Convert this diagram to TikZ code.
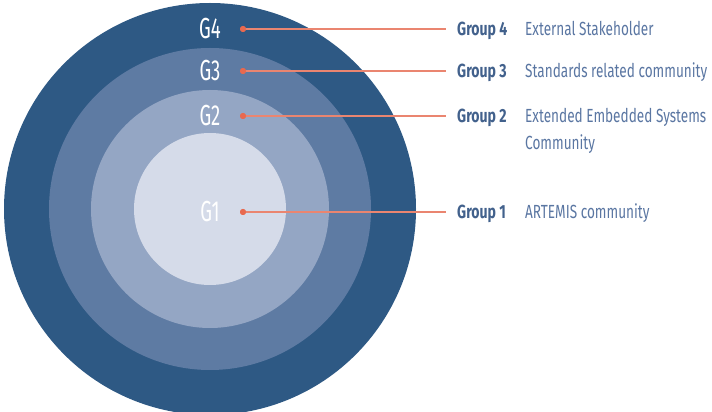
\documentclass[tikz,border=0pt]{standalone}
\usepackage{fontspec}
\setmainfont{Fira Sans}
\newfontfamily\narrowfont[FakeStretch=0.74]{Fira Sans}
\newfontfamily\descfont[FakeStretch=0.715]{Fira Sans}
\newfontfamily\ringfont[FakeStretch=0.64]{Fira Sans}
\usetikzlibrary{positioning}
\definecolor{ringfour}{HTML}{2E5984}
\definecolor{ringthree}{HTML}{5E7BA3}
\definecolor{ringtwo}{HTML}{94A6C4}
\definecolor{ringone}{HTML}{D5DBE9}
\definecolor{coral}{HTML}{E8694F}
\definecolor{leadcol}{HTML}{EA8570}
\definecolor{groupcol}{HTML}{42618C}
\definecolor{desccol}{HTML}{5A76A2}
\tikzset{ring/.style={circle,inner sep=0pt,draw=none}}
\tikzset{ringlabel/.style={text=white,font=\ringfont\fontsize{29}{32}\selectfont,inner sep=0pt}}
\tikzset{dot/.style={circle,fill=coral,inner sep=0pt,minimum size=6pt}}
\tikzset{grouplabel/.style={anchor=west,inner sep=0pt,text height=13pt,text depth=0pt,text=groupcol,font=\narrowfont\bfseries\fontsize{19}{26}\selectfont}}
\tikzset{desclabel/.style={anchor=west,inner sep=0pt,text height=13pt,text depth=0pt,text=desccol,font=\descfont\fontsize{19}{26}\selectfont}}
\tikzset{leader/.style={draw=leadcol,line width=1.2pt,shorten >=11pt}}

\begin{document}
\begin{tikzpicture}[x=1pt,y=1pt]
    \useasboundingbox (0,0) rectangle (712,412);
    % rings
    \node[ring,fill=ringfour,minimum size=412pt] (c4) at (210,203) {};
    \node[ring,fill=ringthree,minimum size=322pt] (c3) at (210,203) {};
    \node[ring,fill=ringtwo,minimum size=238pt] (c2) at (210,203) {};
    \node[ring,fill=ringone,minimum size=152pt] (c1) at (210,203) {};
    % ring names
    \node[ringlabel] (n4) at (210,383) {G4};
    \node[ringlabel] (n3) at (210,341) {G3};
    \node[ringlabel] (n2) at (210,296) {G2};
    \node[ringlabel] (n1) at (210,200) {G1};
    % dots
    \node[dot] (d4) at (243,383) {};
    \node[dot] (d3) at (243,341) {};
    \node[dot] (d2) at (243,296) {};
    \node[dot] (d1) at (243,200) {};
    % groups
    \node[grouplabel] (g4) at (457,383) {Group 4};
    \node[grouplabel] (g3) at (457,341) {Group 3};
    \node[grouplabel] (g2) at (457,296) {Group 2};
    \node[grouplabel] (g1) at (457,200) {Group 1};
    \node[desclabel] (t4) at (525,383) {External Stakeholder};
    \node[desclabel] (t3) at (525,341) {Standards related community};
    \node[desclabel] (t2) at (525,296) {Extended Embedded Systems};
    \node[desclabel,below=14pt of t2.south west,anchor=north west] (t2b) {Community};
    \node[desclabel] (t1) at (525,200) {ARTEMIS community};
    % leaders
    \draw[leader] (d4.center) -- (g4.west);
    \draw[leader] (d3.center) -- (g3.west);
    \draw[leader] (d2.center) -- (g2.west);
    \draw[leader] (d1.center) -- (g1.west);
    \node[dot] at (d4) {};
    \node[dot] at (d3) {};
    \node[dot] at (d2) {};
    \node[dot] at (d1) {};
\end{tikzpicture}
\end{document}
